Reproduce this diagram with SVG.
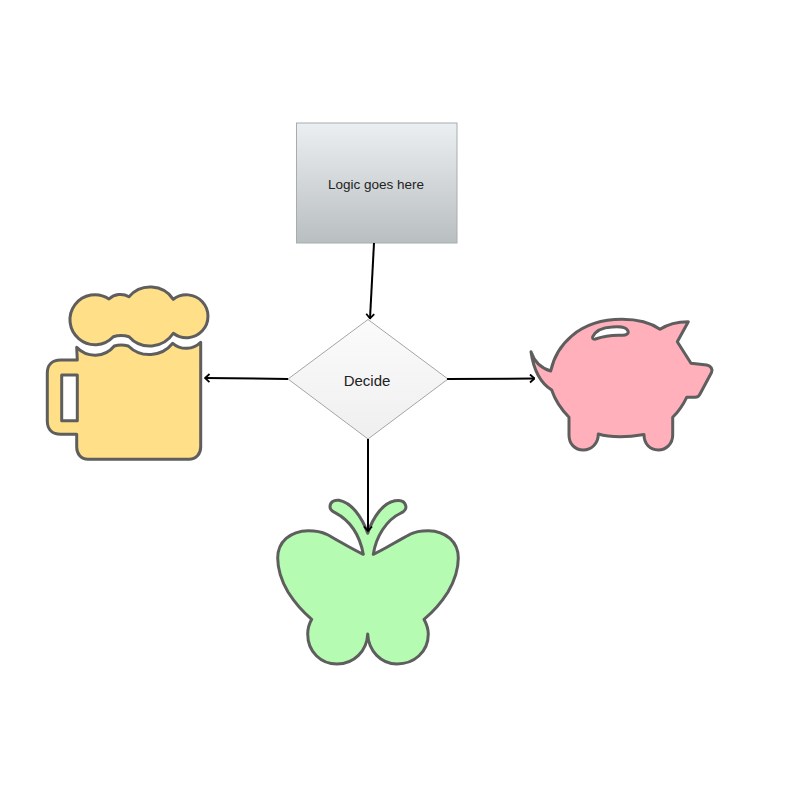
<svg xmlns="http://www.w3.org/2000/svg" width="800" height="800" viewBox="0 0 800 800">
<style>
.icon{stroke:#5e5e5e;stroke-width:3;stroke-linejoin:round}
.box{stroke-width:1}
.lbl{font-family:"Liberation Sans",Arial,sans-serif;fill:#222;text-anchor:middle}
.conn{fill:none;stroke:#000;stroke-width:2;marker-end:url(#arr)}
</style>
<defs>
<linearGradient id="gRect" x1="0" y1="0" x2="0" y2="1"><stop offset="0" stop-color="#ebeff1"/><stop offset="1" stop-color="#b9bec1"/></linearGradient>
<linearGradient id="gDia" x1="0" y1="0" x2="0" y2="1"><stop offset="0" stop-color="#fbfbfb"/><stop offset="1" stop-color="#efefef"/></linearGradient>
<marker id="arr" viewBox="0 0 10 10" refX="9" refY="5" markerWidth="10" markerHeight="10" markerUnits="userSpaceOnUse" orient="auto"><path d="M4.500 1 L9 5 L4.500 9" fill="none" stroke="#000" stroke-width="1.800"/></marker>
</defs>
<rect width="800" height="800" fill="#fff"/>
<g id="logic"><rect class="box" x="296.500" y="123" width="160.500" height="120" fill="url(#gRect)" stroke="#a9acae"/><text class="lbl" x="376" y="189" font-size="13.500">Logic goes here</text></g>
<g id="decide"><path class="box" d="M288 379L368 319.500L448 379L368 439Z" fill="url(#gDia)" stroke="#a5a5a5"/><text class="lbl" x="367" y="386" font-size="15">Decide</text></g>
<g id="beer">
<path class="icon" fill="#ffdf88" d="M109 299A17 17 0 0 1 129 296.700A28 28 0 0 1 173.300 299.300A21.500 21.500 0 1 1 173.300 333.300A28 28 0 0 1 129 336.700Q121 334.500 113.300 336.700A25 25 0 1 1 109 299Z"/>
<path class="icon" fill="#ffdf88" d="M76.700 347.300A25 25 0 0 0 114.300 346Q121 344 128.300 346A30 30 0 0 0 172.700 343.300A20.500 20.500 0 0 0 200.700 342.300V447C200.700 454 196 459.300 189 459.300H88C81 459.300 76.700 454 76.700 447V434.300H60.700C52 434.300 47.300 429 47.300 421V373C47.300 365 52 360 60.700 360H77.300Z"/>
<rect class="icon" x="61.700" y="375" width="15.600" height="45.700" fill="#fff"/>
</g>
<g id="pig">
<path class="icon" fill="#ffb0bb" d="M531 351.700C534 361 541 368 550.700 371C556 346 578 319.300 622 319.300C640 319.300 651 323 660 329.300C668 324 678 321.700 688.300 321.700L677.300 341.700L691 363.300L706.700 365C711 366 713 369 711.500 372.500L700 394C699 396.500 697 397.300 695 397.300H686.700C683 405 678 412 672.700 417.300V435C672.700 444 666 450 658.300 450C650 450 644 444 644 434.500C635 436 627 436.700 620 436.700C612 436.700 605 436 598.300 434C598.300 444 591 450 583.300 450C575 450 569 444 569 435V417.300C560 408 555 400 551.700 390C539 382 533 366 531 351.700Z"/>
<path class="icon" fill="#fff" d="M592.700 336.700C596 330 603 327.500 612 327C618 326.500 626 326 628 331C629 334 626 335.500 622 335.300C612 334.800 604 336 595.500 339C593 339.500 592 338.500 592.700 336.700Z"/>
</g>
<g id="butterfly">
<path class="icon" fill="#b5fbb1" d="M363.300 554.300C352 549 339 541 326.700 534.300C320 531 314 530.700 308.300 530.700C290 531 277.700 542 277.700 558C277.700 568 281 580 288 592C295 603 303 612 311.700 619.300C309 624 307.700 629 307.700 634C307.700 652 321 664 337 664C354 664 367 651 367.700 634C368.500 651 381 664 397 664C414 664 428.300 652 428.300 634C428.300 629 426.500 624 424 619.300C433 612 441 603 448 592C455 580 458.300 568 458.300 558C458.300 542 446 531 428.300 530.700C422 530.700 416 531 410 534.300C397 541 385 549 373.300 554.300C376 537 386 520 401 513C405 511.500 406.500 508 405.700 505.500C404.500 501 400 499.800 395 500.800C383 503 373 517 367.700 533.300C362 517 352 503 339 500.300C334 499.500 330 502 330 506.700C330 510 332.500 511.500 335 512.700C351 521 360 537 363.300 554.300Z"/>
</g>
<g id="connectors">
<path class="conn" d="M374 243L370 318.500"/>
<path class="conn" d="M288 379L205 378"/>
<path class="conn" d="M447 379L534.500 378.500"/>
<path class="conn" d="M368 439L368 531"/>
</g>
</svg>
